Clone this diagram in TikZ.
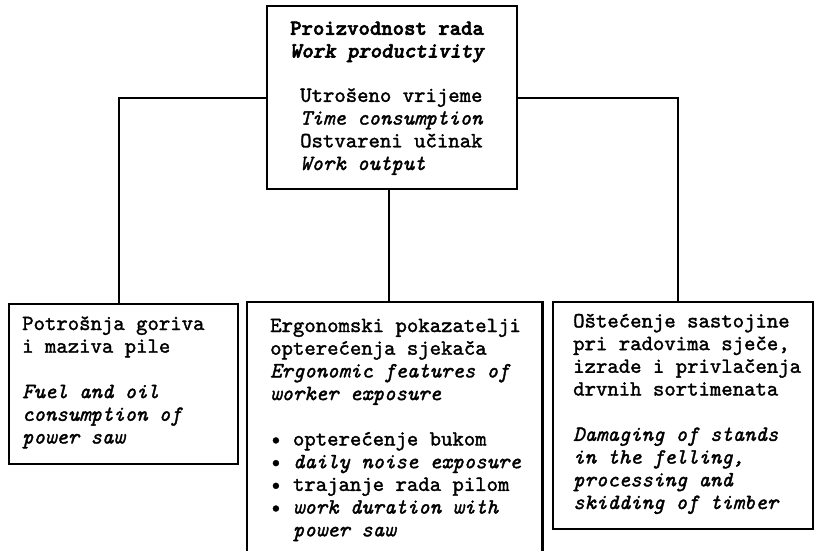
\documentclass[tikz,border=0pt]{standalone}
\usepackage{fontspec}
\setmainfont{lmmono10-regular.otf}[ItalicFont=lmmono10-italic.otf, BoldFont=lmmonolt10-bold.otf, BoldItalicFont=lmmonolt10-boldoblique.otf,
  UprightFeatures={FakeBold=1.6}, ItalicFeatures={FakeBold=1.6}, BoldFeatures={FakeBold=2.6}, BoldItalicFeatures={FakeBold=2.6}]
\begin{document}
\begin{tikzpicture}[x=1pt,y=-1pt,
  boxline/.style={draw, line width=2.2pt, inner sep=0pt, anchor=north west},
  conn/.style={line width=2pt},
  txt/.style={anchor=base west, align=left, inner sep=0pt, font=\fontsize{21.7}{22.7}\selectfont}]
\useasboundingbox (0,0) rectangle (814,550);
% boxes
\node[boxline, minimum width=250pt, minimum height=183pt] (top) at (266,5) {};
\node[boxline, minimum width=229pt, minimum height=160pt] (left) at (8,303) {};
\node[inner sep=0pt, anchor=north west, minimum width=295pt, minimum height=260pt] (mid) at (247,302) {};
\draw[line width=2.2pt] (mid.south west) -- (mid.north west) -- (mid.north east) -- (mid.south east);
\node[boxline, minimum width=260pt, minimum height=227pt] (right) at (552,301) {};
% connectors
\draw[conn] (top.west) -| ([xshift=-4.5pt]left.north);
\draw[conn] (top.east) -| ([xshift=-5pt]right.north);
\draw[conn] ([xshift=-3pt]top.south) -- ([xshift=-3pt]top.south |- mid.north);
% texts (anchor = baseline of the last line)
\node[txt] (t1) at (290,57.5) {\bfseries Proizvodnost rada\\ \bfseries\itshape Work productivity};
\node[txt] (t2) at (300,170) {Utrošeno vrijeme\\ \itshape Time consumption\\ Ostvareni učinak\\ \itshape Work output};
\node[txt] (t3) at (22,443.5) {Potrošnja goriva\\ i maziva pile\\[22.7pt] \itshape Fuel and oil\\ \itshape consumption of\\ \itshape power saw};
\node[txt] (t4) at (270,536.3) {Ergonomski pokazatelji\\ opterećenja sjekača\\ \itshape Ergonomic features of\\ \itshape worker exposure\\[22.7pt]
\textbullet\ opterećenje bukom\\ \textbullet\ \itshape daily noise exposure\\ \textbullet\ trajanje rada pilom\\ \textbullet\ \itshape work duration with\\ \phantom{\textbullet\ }\itshape power saw};
\node[txt] (t5) at (573,509) {Oštećenje sastojine\\ pri radovima sječe,\\ izrade i privlačenja\\ drvnih sortimenata\\[22.7pt]
\itshape Damaging of stands\\ \itshape in the felling,\\ \itshape processing and\\ \itshape skidding of timber};
\end{tikzpicture}
\end{document}
